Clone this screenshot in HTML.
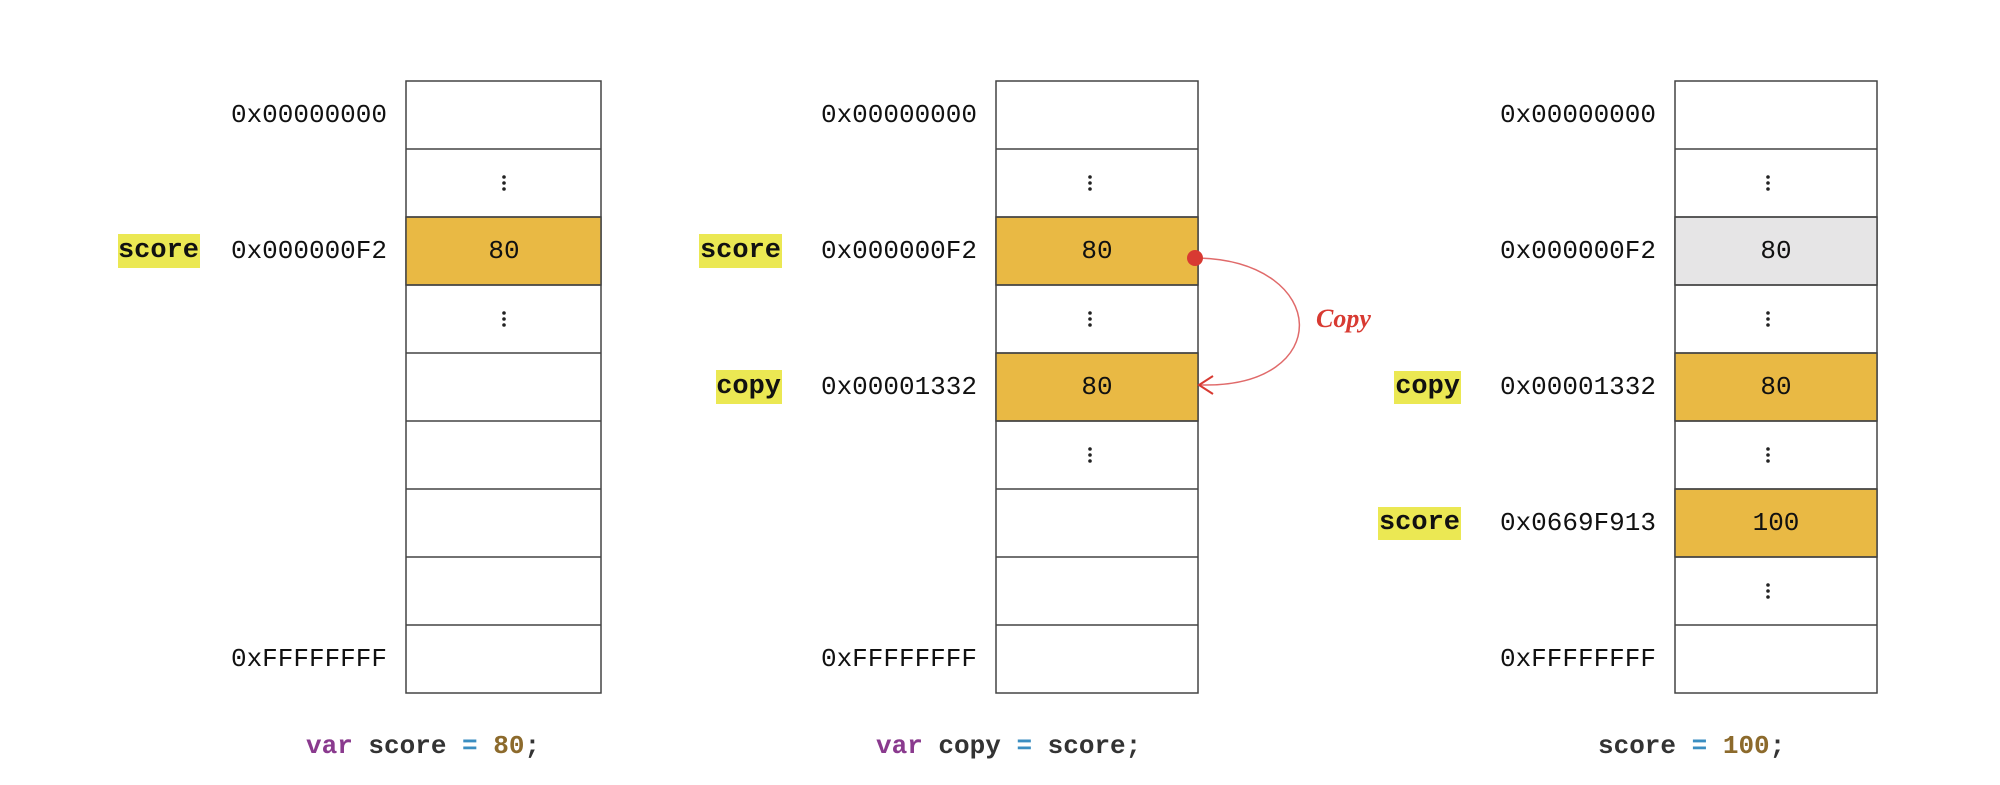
<!DOCTYPE html>
<html><head><meta charset="utf-8"><style>
html,body{margin:0;padding:0;background:#fff;width:2000px;height:785px;overflow:hidden}
</style></head><body>
<svg width="2000" height="785" xmlns="http://www.w3.org/2000/svg" font-family="Liberation Mono, monospace">
<defs>
<g id="dots"><circle cx="0" cy="-6" r="1.8" fill="#222"/><circle cx="0" cy="0" r="1.8" fill="#222"/><circle cx="0" cy="6" r="1.8" fill="#222"/></g>
</defs>
<!-- Column boxes -->
<g stroke="#444" stroke-width="1.5">
<!-- col1 -->
<rect x="406" y="81" width="195" height="612" fill="#fff"/>
<rect x="406" y="217" width="195" height="68" fill="#e9b944"/>
<!-- col2 -->
<rect x="996" y="81" width="202" height="612" fill="#fff"/>
<rect x="996" y="217" width="202" height="68" fill="#e9b944"/>
<rect x="996" y="353" width="202" height="68" fill="#e9b944"/>
<!-- col3 -->
<rect x="1675" y="81" width="202" height="612" fill="#fff"/>
<rect x="1675" y="217" width="202" height="68" fill="#e6e5e6"/>
<rect x="1675" y="353" width="202" height="68" fill="#e9b944"/>
<rect x="1675" y="489" width="202" height="68" fill="#e9b944"/>
</g>
<g stroke="#444" stroke-width="1.5">
<path d="M406 149H601M406 217H601M406 285H601M406 353H601M406 421H601M406 489H601M406 557H601M406 625H601"/>
<path d="M996 149H1198M996 217H1198M996 285H1198M996 353H1198M996 421H1198M996 489H1198M996 557H1198M996 625H1198"/>
<path d="M1675 149H1877M1675 217H1877M1675 285H1877M1675 353H1877M1675 421H1877M1675 489H1877M1675 557H1877M1675 625H1877"/>
</g>
<!-- dots -->
<use href="#dots" x="504" y="183"/><use href="#dots" x="504" y="319"/>
<use href="#dots" x="1090" y="183"/><use href="#dots" x="1090" y="319"/><use href="#dots" x="1090" y="455"/>
<use href="#dots" x="1768" y="183"/><use href="#dots" x="1768" y="319"/><use href="#dots" x="1768" y="455"/><use href="#dots" x="1768" y="591"/>
<!-- cell values -->
<g font-size="26" fill="#111" text-anchor="middle" dominant-baseline="central">
<text x="504" y="251">80</text>
<text x="1097" y="251">80</text><text x="1097" y="387">80</text>
<text x="1776" y="251">80</text><text x="1776" y="387">80</text><text x="1776" y="523">100</text>
</g>
<!-- addresses -->
<g font-size="26" fill="#111" text-anchor="end" dominant-baseline="central">
<text x="387" y="115">0x00000000</text><text x="387" y="251">0x000000F2</text><text x="387" y="659">0xFFFFFFFF</text>
<text x="977" y="115">0x00000000</text><text x="977" y="251">0x000000F2</text><text x="977" y="387">0x00001332</text><text x="977" y="659">0xFFFFFFFF</text>
<text x="1656" y="115">0x00000000</text><text x="1656" y="251">0x000000F2</text><text x="1656" y="387">0x00001332</text><text x="1656" y="523">0x0669F913</text><text x="1656" y="659">0xFFFFFFFF</text>
</g>
<!-- name labels -->
<g fill="#ebe853">
<rect x="118" y="234" width="82" height="34"/>
<rect x="699" y="234" width="83" height="34"/>
<rect x="716" y="370" width="66" height="34"/>
<rect x="1394" y="371" width="67" height="33"/>
<rect x="1378" y="507" width="83" height="33"/>
</g>
<g font-size="27" font-weight="bold" fill="#111" text-anchor="end" dominant-baseline="central">
<text x="199" y="251">score</text>
<text x="781" y="251">score</text>
<text x="781" y="387">copy</text>
<text x="1460" y="387">copy</text>
<text x="1460" y="523">score</text>
</g>
<!-- copy arrow -->
<path d="M1199 258 C1330 262 1335 388 1201 385" fill="none" stroke="#e06a6a" stroke-width="1.5"/>
<path d="M1213 376 L1199 385 L1213 394" fill="none" stroke="#d83a32" stroke-width="2"/>
<circle cx="1195" cy="258" r="8" fill="#d83a32"/>
<text x="1316" y="327" font-family="Liberation Serif, serif" font-style="italic" font-weight="bold" font-size="26" fill="#d83a32">Copy</text>
<!-- code -->
<g font-size="26" font-weight="bold" dominant-baseline="central">
<text x="306" y="746"><tspan fill="#8a3a8e">var</tspan><tspan fill="#333"> score </tspan><tspan fill="#3b8ec1">=</tspan><tspan fill="#8c6a2c"> 80</tspan><tspan fill="#333">;</tspan></text>
<text x="876" y="746"><tspan fill="#8a3a8e">var</tspan><tspan fill="#333"> copy </tspan><tspan fill="#3b8ec1">=</tspan><tspan fill="#333"> score;</tspan></text>
<text x="1598" y="746"><tspan fill="#333">score </tspan><tspan fill="#3b8ec1">=</tspan><tspan fill="#8c6a2c"> 100</tspan><tspan fill="#333">;</tspan></text>
</g>
</svg>
</body></html>
